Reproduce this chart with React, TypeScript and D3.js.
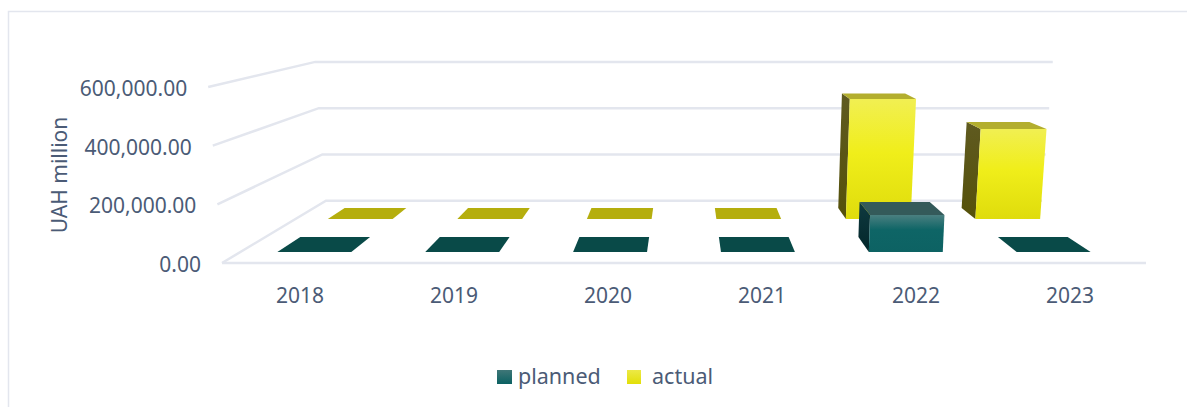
import React from "react";
import * as d3 from "d3";

const years = ["2018", "2019", "2020", "2021", "2022", "2023"];
const planned = [0, 0, 0, 0, 130800, 0];
const actual = [0, 0, 0, 0, 480400, 360500];
const yTicks = [0, 200000, 400000, 600000];
const seriesNames = ["planned", "actual"];

const W = 1187, H = 407;
const FONT = "'Noto Sans', sans-serif";
const TEXT = "#4b5b76";
const GRID = "#e3e6ee";

const x = d3.scaleBand<string>().domain(years).range([222, 1146]).paddingInner(0.5).paddingOuter(0.25);
const xOuter = d3.scaleBand<string>().domain(years).range([222, 1146]);
const y = d3.scaleLinear().domain([0, 600000]).range([263, 87]);
const kx = d3.scaleLinear().domain([0, 1]).range([1, 0.775]);
const ky = d3.scaleLinear().domain([0, 1]).range([1, 0.789]);
const CX = 684, VY = -32, TILT = 0.00017;

function project(wx: number, v: number, d: number): [number, number] {
  const fy = y(v);
  const h = y(0) - fy;
  return [CX + (wx - CX) * (1 + h * TILT) * kx(d), VY + (fy - VY) * ky(d)];
}
const line = d3.line();
const poly = (pts: [number, number][]) => line(pts) + "Z";

const depthPlanned: [number, number] = [0.177, 0.4175];
const depthActual: [number, number] = [0.707, 0.883];

function Bars({ values, depth, name, colors }: any) {
  const [d0, d1] = depth;
  return (
    <g>
      {years.map((yr, i) => {
        const v = values[i];
        const l = x(yr)!, r = l + x.bandwidth();
        if (v === 0) {
          return <path key={yr} d={poly([project(l, 0, d0), project(r, 0, d0), project(r, 0, d1), project(l, 0, d1)])} fill={colors.flat} />;
        }
        return (
          <g key={yr}>
            <path d={poly([project(l, 0, d1), project(l, 0, d0), project(l, v, d0), project(l, v, d1)])} fill={`url(#side-${name})`} />
            <path d={poly([project(l, v, d0), project(r, v, d0), project(r, v, d1), project(l, v, d1)])} fill={colors.top} />
            <path d={poly([project(l, 0, d0), project(r, 0, d0), project(r, v, d0), project(l, v, d0)])} fill={`url(#front-${name})`} />
          </g>
        );
      })}
    </g>
  );
}

export default function App() {
  return (
    <svg width={W} height={H} style={{ position: "absolute", left: 0, top: 0 }} fontFamily={FONT}>
      <defs>
        <linearGradient id="front-planned" x1="0" y1="0" x2="0" y2="1">
          <stop offset="0" stopColor="#4a7f80" />
          <stop offset="0.4" stopColor="#0e6566" />
          <stop offset="1" stopColor="#0d6263" />
        </linearGradient>
        <linearGradient id="front-actual" x1="0" y1="0" x2="0" y2="1">
          <stop offset="0" stopColor="#f1ef52" />
          <stop offset="0.45" stopColor="#f0ee1a" />
          <stop offset="1" stopColor="#dfdc0c" />
        </linearGradient>
        <linearGradient id="side-planned" x1="0" y1="0" x2="0" y2="1">
          <stop offset="0" stopColor="#0f3a40" />
          <stop offset="1" stopColor="#03262a" />
        </linearGradient>
        <linearGradient id="side-actual" x1="0" y1="0" x2="0" y2="1">
          <stop offset="0" stopColor="#5f5a20" />
          <stop offset="1" stopColor="#55510a" />
        </linearGradient>
        <linearGradient id="leg-planned" x1="0" y1="0" x2="0" y2="1">
          <stop offset="0" stopColor="#3f7677" />
          <stop offset="1" stopColor="#0b6162" />
        </linearGradient>
        <linearGradient id="leg-actual" x1="0" y1="0" x2="0" y2="1">
          <stop offset="0" stopColor="#ece947" />
          <stop offset="1" stopColor="#e2df08" />
        </linearGradient>
      </defs>
      <path d={`M${W},11.5H8.5V${H}`} fill="none" stroke={GRID} strokeWidth={1.5} />

      {yTicks.map((t) => {
        const front = project(222, t, 0);
        const back = project(222, t, 1);
        const backR = project(1146, t, 1);
        return (
          <g key={t}>
            <path d={line([front, back, backR])!} fill="none" stroke={GRID} strokeWidth={2.5} />
            <text x={front[0] - 21} y={front[1] + 9} textAnchor="end" fontSize={21} fill={TEXT}>
              {d3.format(",.2f")(t)}
            </text>
          </g>
        );
      })}
      <path d={line([project(222, 0, 0), project(1146, 0, 0)])!} stroke={GRID} strokeWidth={2.5} fill="none" />

      <Bars values={actual} depth={depthActual} name="actual" colors={{ flat: "#b5ae0e", top: "#b3ae2e" }} />
      <Bars values={planned} depth={depthPlanned} name="planned" colors={{ flat: "#094a48", top: "#345a5a" }} />

      {years.map((yr) => (
        <text key={yr} x={xOuter(yr)! + xOuter.bandwidth() / 2 + 1} y={303} textAnchor="middle" fontSize={21} fill={TEXT}>
          {yr}
        </text>
      ))}
      <text transform="translate(67,175) rotate(-90)" textAnchor="middle" fontSize={21} fill={TEXT}>
        UAH million
      </text>

      <rect x={497} y={370} width={15} height={14} fill="url(#leg-planned)" />
      <text x={518} y={384} fontSize={21.5} fill={TEXT}>{seriesNames[0]}</text>
      <rect x={627} y={370} width={14} height={14} fill="url(#leg-actual)" />
      <text x={652} y={384} fontSize={21.5} fill={TEXT}>{seriesNames[1]}</text>
    </svg>
  );
}
